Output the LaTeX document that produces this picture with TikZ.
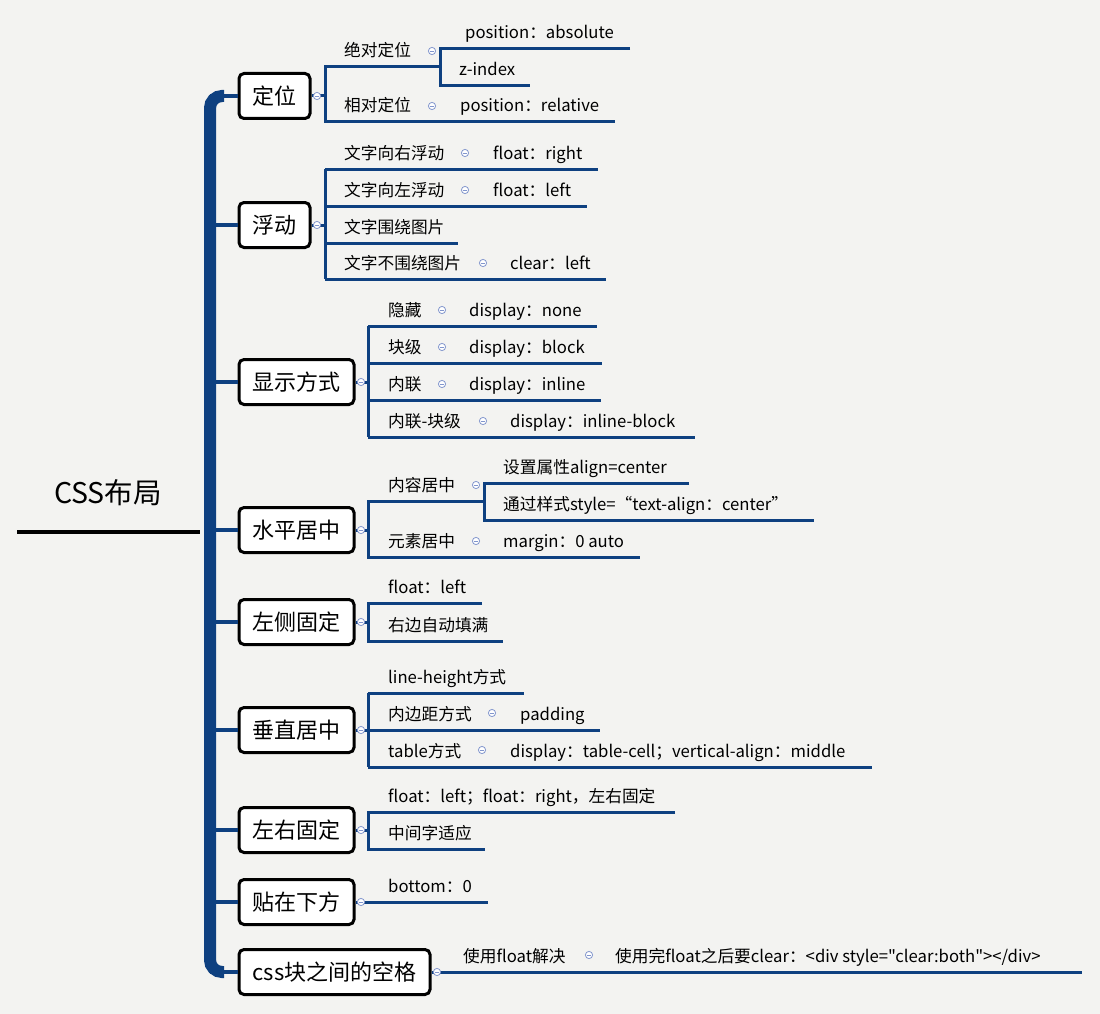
\documentclass[tikz,border=0pt]{standalone}
\usepackage{fontspec}
\setmainfont{Noto Sans CJK SC}[Ligatures=TeXOff]
\usetikzlibrary{positioning}
\definecolor{mapblue}{RGB}{14,64,128}
\definecolor{paper}{RGB}{243,243,241}
\definecolor{foldring}{RGB}{130,150,205}
\begin{document}
\begin{tikzpicture}[x=1pt,y=-1pt,
		topic/.style={draw=black,line width=3pt,fill=white,rounded corners=5pt,anchor=west,minimum height=45pt,inner xsep=0pt,font=\fontsize{22}{26}\selectfont},
		leaf/.style={anchor=base west,inner sep=0pt,font=\fontsize{16.7}{20}\selectfont},
		link/.style={draw=mapblue,line width=3pt},
		fold/.pic={\draw[foldring,fill=white,line width=0.8pt] (0,0) circle (3.6pt); \draw[foldring,line width=0.8pt] (-2,0) -- (2,0);}]
		\fill[paper] (0,0) rectangle (1100,1014);
		% root
		\node[font=\fontsize{28.5}{32}\selectfont] (root) at (108,493) {CSS布局};
		\coordinate (rootl) at (17,532);
		\coordinate (rootr) at (200,532);
		\draw[black,line width=4pt] (rootl) -- (rootr);
		% topics
		\node[topic,minimum width=71pt] (dw) at (237.5,96) {定位};
		\node[topic,minimum width=71pt] (fd) at (237.5,225) {浮动};
		\node[topic,minimum width=115pt] (xs) at (237.5,382) {显示方式};
		\node[topic,minimum width=115pt] (sp) at (237.5,530) {水平居中};
		\node[topic,minimum width=115pt] (zc) at (237.5,622) {左侧固定};
		\node[topic,minimum width=115pt] (cz) at (237.5,730) {垂直居中};
		\node[topic,minimum width=115pt] (yg) at (237.5,830) {左右固定};
		\node[topic,minimum width=115pt] (tx) at (237.5,902) {贴在下方};
		\node[topic,minimum width=191pt] (kg) at (237.5,972) {css块之间的空格};
		% trunk
		\draw[mapblue,line width=12pt,rounded corners=12pt] (224,96) -- (210,96) -- (210,972) -- (224,972);
		\foreach \n in {dw,fd,xs,sp,zc,cz,yg,tx,kg}{
			\draw[link,line width=4pt] (\n.west) -- ++(-27.5,0);
		}
		% 定位
		\draw[link] (dw.east) -- (325,96);
		\draw[link] (440,67) -| (325,122) -- (615,122);
		\draw[link] (630,49) -| (440,86) -- (530,86);
		\node[leaf] (jd) at (344,57) {绝对定位};
		\node[leaf] (pa) at (465,39) {position：absolute};
		\node[leaf] (zi) at (459,76) {z-index};
		\node[leaf] (xd) at (344,112) {相对定位};
		\node[leaf] (pr) at (460,112) {position：relative};
		\pic at (317,96) {fold};
		\pic at (432,51) {fold};
		\pic at (432,106) {fold};
		% 浮动
		\draw[link] (fd.east) -- (325,225);
		\draw[link] (325,169) -- (325,279);
		\foreach \uy/\len in {169/598,206/587,243/458,279/606}{
			\draw[link] (325,\uy) -- (\len,\uy);
		}
		\node[leaf] (yf) at (344,159) {文字向右浮动};
		\node[leaf] (fr) at (493,159) {float：right};
		\node[leaf] (zf) at (344,196) {文字向左浮动};
		\node[leaf] (fl) at (493,196) {float：left};
		\node[leaf] (wr) at (344,233) {文字围绕图片};
		\node[leaf] (bw) at (344,269) {文字不围绕图片};
		\node[leaf] (cl) at (510,269) {clear：left};
		\pic at (317,225) {fold};
		\pic at (465,153) {fold};
		\pic at (465,190) {fold};
		\pic at (483,263) {fold};
		% 显示方式
		\draw[link] (xs.east) -- (368,382);
		\draw[link] (368,326) -- (368,437);
		\foreach \uy/\len in {326/597,363/602,400/601,437/695}{
			\draw[link] (368,\uy) -- (\len,\uy);
		}
		\node[leaf] (yc) at (388,316) {隐藏};
		\node[leaf] (dn) at (469,316) {display：none};
		\node[leaf] (kj) at (388,353) {块级};
		\node[leaf] (db) at (469,353) {display：block};
		\node[leaf] (nl) at (388,390) {内联};
		\node[leaf] (di) at (469,390) {display：inline};
		\node[leaf] (nk) at (388,427) {内联-块级};
		\node[leaf] (dib) at (510,427) {display：inline-block};
		\pic at (361,382) {fold};
		\foreach \cy in {310,347,384}{
			\pic at (442,\cy) {fold};
		}
		\pic at (483,421) {fold};
		% 水平居中
		\draw[link] (sp.east) -- (368,530);
		\draw[link] (484,501) -| (368,557) -- (640,557);
		\draw[link] (689,483) -| (484,520) -- (814,520);
		\node[leaf] (nr) at (388,491) {内容居中};
		\node[leaf] (sz) at (503,473) {设置属性align=center};
		\node[leaf] (tg) at (503,510) {通过样式style=“text-align：center”};
		\node[leaf] (ys) at (388,547) {元素居中};
		\node[leaf] (mg) at (503,547) {margin：0 auto};
		\pic at (361,530) {fold};
		\pic at (476,485) {fold};
		\pic at (476,541) {fold};
		% 左侧固定
		\draw[link] (zc.east) -- (368,622);
		\draw[link] (482,603) -| (368,641) -- (503,641);
		\node[leaf] (lf) at (388,593) {float：left};
		\node[leaf] (tm) at (388,631) {右边自动填满};
		\pic at (361,622) {fold};
		% 垂直居中
		\draw[link] (cz.east) -- (368,730);
		\draw[link] (368,693) -- (368,767);
		\foreach \uy/\len in {693/524,730/600,767/872}{
			\draw[link] (368,\uy) -- (\len,\uy);
		}
		\node[leaf] (lh) at (388,683) {line-height方式};
		\node[leaf] (nb) at (388,720) {内边距方式};
		\node[leaf] (pd) at (520,720) {padding};
		\node[leaf] (tb) at (388,757) {table方式};
		\node[leaf] (tc) at (510,757) {display：table-cell；vertical-align：middle};
		\pic at (361,730) {fold};
		\pic at (492,713) {fold};
		\pic at (482,750) {fold};
		% 左右固定
		\draw[link] (yg.east) -- (368,830);
		\draw[link] (675,812) -| (368,849) -- (485,849);
		\node[leaf] (lr) at (388,802) {float：left；float：right，左右固定};
		\node[leaf] (zj) at (388,839) {中间字适应};
		\pic at (361,830) {fold};
		% 贴在下方
		\draw[link] (tx.east) -- (488,902);
		\node[leaf] (bt) at (388,892) {bottom：0};
		\pic at (361,902) {fold};
		% css块之间的空格
		\draw[link] (kg.east) -- (1082,972);
		\node[leaf] (sy) at (463,962) {使用float解决};
		\node[leaf] (cb) at (615,962) {使用完float之后要clear：<div style="clear:both"></div>};
		\pic at (437,972) {fold};
		\pic at (589,955) {fold};
	\end{tikzpicture}
\end{document}
